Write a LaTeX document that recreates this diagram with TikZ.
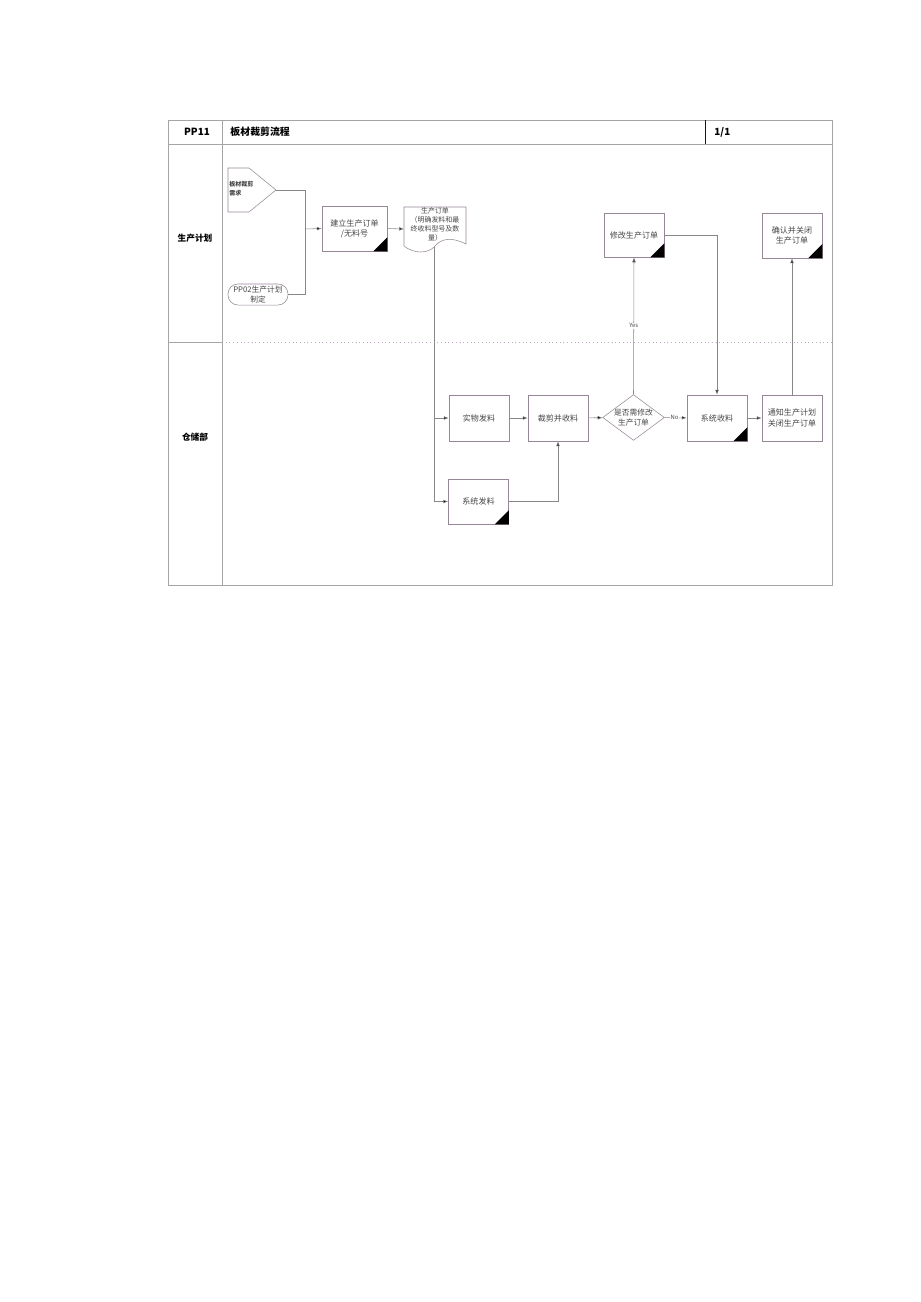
\documentclass[tikz,border=0pt]{standalone}
\usepackage{fontspec}
\setmainfont{Liberation Serif}
\newfontfamily\cjk{Noto Sans CJK SC}
\usetikzlibrary{arrows.meta,shapes.geometric}
\definecolor{framec}{RGB}{165,165,165}
\definecolor{boxc}{RGB}{150,135,150}
\definecolor{linec}{RGB}{135,135,135}
\definecolor{txtc}{RGB}{70,70,70}
\definecolor{sepc}{RGB}{190,170,195}
\tikzset{
  frame/.style={draw=framec, line width=0.4pt},
  boxnode/.style={draw=boxc, line width=0.35pt, fill=white, minimum width=38.8pt, minimum height=29.7pt, inner sep=0pt, align=center, font=\cjk\fontsize{5.2}{6.6}\selectfont, text=txtc},
  conn/.style={draw=linec, line width=0.35pt},
  arr/.style={conn, -{Latex[length=3.2pt,width=2.4pt]}, arrows={-{Latex[length=3.2pt,width=2.4pt,fill=black]}}},
  lane/.style={font=\cjk\bfseries\fontsize{5.6}{6.5}\selectfont, text=black},
  head/.style={font=\cjk\bfseries\fontsize{6.4}{7.5}\selectfont, text=black},
  tiny/.style={font=\cjk\fontsize{3.8}{4.4}\selectfont, text=txtc, fill=white, inner sep=0.5pt},
  corner/.style={fill=black}
}
\begin{document}
\begin{tikzpicture}[x=0.6466pt, y=-0.6466pt]
\useasboundingbox (0,0) rectangle (920,1302);
% frame
\draw[frame] (168,120) rectangle (832,585);
\draw[frame] (168,144) -- (832,144);
\draw[frame] (222,120) -- (222,585);
\draw[frame, draw=black!60!violet] (705,120) -- (705,144);
\draw[frame] (168,342) -- (222,342);
\draw[draw=sepc, line width=0.4pt, dotted] (222,342) -- (832,342);
% header
\node[head] (hid) at (197,132) {PP11};
\node[head, anchor=west] (htitle) at (225,132) {板材裁剪流程};
\node[head, anchor=west] (hpage) at (709,132) {1/1};
% lane labels
\node[lane] (lane1) at (195,238) {生产计划};
\node[lane] (lane2) at (195,437) {仓储部};

% off-page reference
\draw[draw=boxc, line width=0.35pt] (228,168) -- (249,168) -- (276,190) -- (249,212) -- (228,212) -- cycle;
\coordinate (offtip) at (276,190);
\node[anchor=west, align=left, inner sep=0pt, font=\cjk\bfseries\fontsize{3.9}{5.6}\selectfont, text=txtc] (offtxt) at (229,189) {板材裁剪\\需求};

% terminator
\node[draw=boxc, line width=0.35pt, rounded corners=6.5pt, minimum width=38.8pt, minimum height=13.6pt, inner sep=0pt, align=center, font=\cjk\fontsize{5}{6.2}\selectfont, text=txtc] (pp02) at (258,294.5) {PP02生产计划\\制定};

% boxes
\node[boxnode, minimum width=42pt, minimum height=29.1pt] (b1) at (354.5,228.5) {建立生产订单\\/无料号};
\node[boxnode, minimum height=28.5pt] (b2) at (634,235) {修改生产订单};
\node[boxnode, minimum height=29pt] (b3) at (792,235.5) {确认并关闭\\生产订单};
\node[boxnode] (b4) at (479,418) {实物发料};
\node[boxnode] (b5) at (558,418) {裁剪并收料};
\node[draw=boxc, line width=0.35pt, diamond, aspect=1.35, minimum width=39.4pt, minimum height=29.1pt, inner sep=0pt, align=center, font=\cjk\fontsize{5}{6.4}\selectfont, text=txtc] (d1) at (633.5,417.5) {是否需修改\\生产订单};
\node[boxnode] (b6) at (717,418) {系统收料};
\node[boxnode] (b7) at (792,418) {通知生产计划\\关闭生产订单};
\node[boxnode, minimum height=29.1pt] (b8) at (478.5,501.5) {系统发料};

% corner triangles
\foreach \b in {b1,b2,b3,b6,b8}{
  \fill[corner] (\b.south east) -- ++(-14,0) -- ++(14,-14) -- cycle;
}

% document shape
\draw[draw=boxc, line width=0.35pt, fill=white] (404,207) -- (466,207) -- (466,244)
  .. controls (452,237) and (442,238) .. (435,246)
  .. controls (428,254) and (414,254) .. (404,246) -- cycle;
\node[align=center, inner sep=0pt, font=\cjk\fontsize{4.5}{5.8}\selectfont, text=txtc] (doctxt) at (435,224.5) {生产订单\\（明确发料和最\\终收料型号及数\\量）};
\coordinate (docb) at (434,247);
\coordinate (docl) at (404,229);

% connectors
\coordinate (j1) at (305,229);
\draw[conn] (offtip) -| (j1);
\draw[conn] (pp02.east) -| (j1);
\draw[arr] (j1) -- (b1.west);
\draw[arr] (b1.east) -- (docl);
\draw[arr] (docb) |- (b4.west);
\draw[arr] (docb) |- (b8.west);
\draw[arr] (b4) -- (b5);
\draw[arr] (b5) -- (d1);
\draw[arr] (b8.east) -| (b5.south);
\draw[arr] (d1) -- node[tiny, pos=0.45] {No} (b6);
\draw[arr] (d1.north) -- node[tiny, pos=0.5] {Yes} (b2.south);
\draw[arr] (b2.east) -| (b6.north);
\draw[arr] (b6) -- (b7);
\draw[arr] (b7.north) -- (b3.south);
\end{tikzpicture}
\end{document}
